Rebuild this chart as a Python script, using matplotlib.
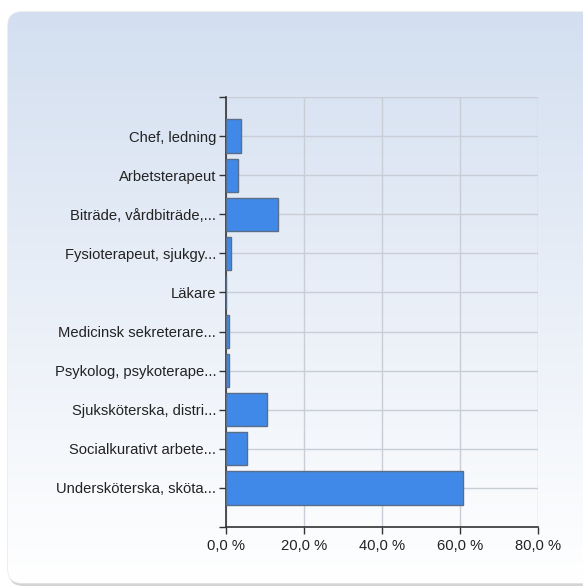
import matplotlib
matplotlib.use("Agg")
import matplotlib.pyplot as plt
import numpy as np
from matplotlib.patches import FancyBboxPatch
from matplotlib.ticker import FuncFormatter

categories = ["Chef, ledning", "Arbetsterapeut", "Biträde, vårdbiträde,...",
              "Fysioterapeut, sjukgy...", "Läkare", "Medicinsk sekreterare...",
              "Psykolog, psykoterape...", "Sjuksköterska, distri...",
              "Socialkurativt arbete...", "Undersköterska, sköta..."]
values = [3.8, 3.2, 13.3, 1.3, 0.0, 0.7, 0.7, 10.4, 5.4, 60.7]
xticks = [0, 20, 40, 60, 80]

plt.rcParams['font.family'] = ['Liberation Sans', 'DejaVu Sans']

W, H = 583, 588
fig = plt.figure(figsize=(W/100, H/100), dpi=100)
fig.patch.set_facecolor('white')

# background panel with gradient
bg = fig.add_axes([0, 0, 1, 1], zorder=-10)
bg.set_xlim(0, W); bg.set_ylim(H, 0); bg.axis('off')
sh = FancyBboxPatch((9, 14), 590, 572, boxstyle="round,pad=0,rounding_size=14",
                    facecolor='#b8b8b8', edgecolor='none', alpha=0.6)
bg.add_patch(sh)
panel = FancyBboxPatch((8, 12), 590, 571, boxstyle="round,pad=0,rounding_size=14",
                       facecolor='none', edgecolor='#e8e8e8', linewidth=1)
bg.add_patch(panel)
grad = np.linspace(0, 1, 256).reshape(-1, 1)
top = np.array([0xd3, 0xdf, 0xf0]) / 255
bot = np.array([1.0, 1.0, 1.0])
img = top[None, None, :] * (1 - grad[..., None]) + bot[None, None, :] * grad[..., None]
im = bg.imshow(img, extent=(8, 598, 583, 12), aspect='auto', zorder=1)
im.set_clip_path(panel)

ax = fig.add_axes([226/W, (H-527)/H, 312/W, 430/H])
ax.set_facecolor('none')
pos = np.arange(1, len(categories) + 1)
ax.barh(pos, values, height=0.85, color='#4189e8', edgecolor='#5a6e8a',
        linewidth=1, zorder=3)
ax.set_ylim(11, 0)
ax.set_xlim(0, 80)
ax.set_yticks(np.arange(0, 12))
ax.set_yticklabels([''] + categories + [''])
ax.set_xticks(xticks)
ax.xaxis.set_major_formatter(FuncFormatter(lambda v, p: f"{v:.1f}".replace('.', ',') + " %"))
ax.grid(True, color='#c9ced6', linewidth=1, zorder=0)
ax.set_axisbelow(True)
for s in ['top', 'right']:
    ax.spines[s].set_visible(False)
for s in ['left', 'bottom']:
    ax.spines[s].set_color('#333333')
    ax.spines[s].set_linewidth(1.2)
ax.tick_params(axis='both', colors='#333333', labelcolor='#222222', labelsize=10.6,
               length=5, width=1)
ax.tick_params(axis='x', pad=4)
ax.tick_params(axis='y', pad=2)

fig.savefig('out.png', dpi=100)
